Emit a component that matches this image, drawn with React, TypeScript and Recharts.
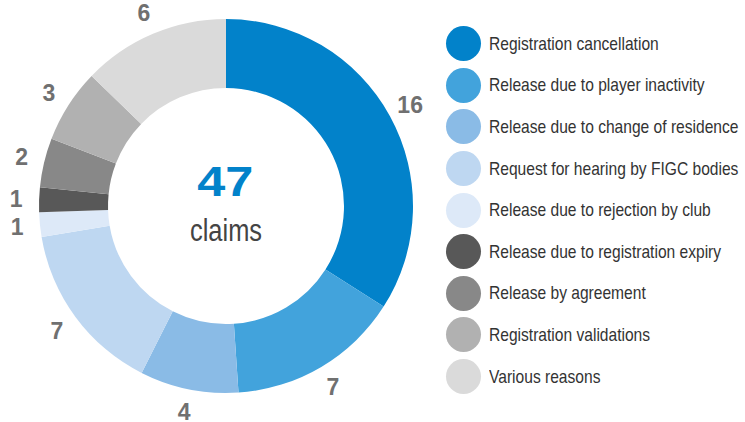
import React from 'react';
import { PieChart, Pie, Cell } from 'recharts';

// Claims by type (total 47)
const categories = [
    'Registration cancellation',
    'Release due to player inactivity',
    'Release due to change of residence',
    'Request for hearing by FIGC bodies',
    'Release due to rejection by club',
    'Release due to registration expiry',
    'Release by agreement',
    'Registration validations',
    'Various reasons',
];
const claims = [16, 7, 4, 7, 1, 1, 2, 3, 6];
const colors = ['#0282ca', '#42a3dc', '#8abbe6', '#bed7f1', '#dde9f8', '#585858', '#888888', '#b1b1b1', '#dadada'];
const totalLabel = '47';
const totalUnit = 'claims';

const data = categories.map((name, i) => ({ name, value: claims[i] }));

const RADIAN = Math.PI / 180;
const narrow = { display: 'inline-block', transform: 'scaleX(0.82)', transformOrigin: 'left center' };

const renderValue = (props: any) => {
    const { cx, cy, midAngle, outerRadius, value } = props;
    const r = outerRadius + 23;
    const x = cx + r * Math.cos(-midAngle * RADIAN);
    const y = cy + r * Math.sin(-midAngle * RADIAN);
    return (
        <text x={x} y={y} textAnchor="middle" dominantBaseline="central" fill="#707070"
            style={{ fontFamily: '"Liberation Sans", Arial, sans-serif', fontWeight: 700, fontSize: 23 }}>
            {value}
        </text>
    );
};

export default function App() {
    return (
        <div style={{ position: 'absolute', left: 0, top: 0, width: 745, height: 422, background: '#fff', fontFamily: '"Liberation Sans", Arial, sans-serif' }}>
            <PieChart width={745} height={422} margin={{ top: 0, right: 0, bottom: 0, left: 0 }}>
                <Pie
                    data={data}
                    dataKey="value"
                    nameKey="name"
                    cx={226}
                    cy={206}
                    innerRadius={118}
                    outerRadius={187}
                    startAngle={90}
                    endAngle={-270}
                    stroke="none"
                    label={renderValue}
                    labelLine={false}
                    isAnimationActive={false}
                >
                    {data.map((d, i) => (
                        <Cell key={d.name} fill={colors[i]} />
                    ))}
                </Pie>
            </PieChart>

            {/* centre total */}
            <div style={{ position: 'absolute', left: 145, width: 160, top: 158, textAlign: 'center', color: '#0282ca', fontWeight: 700, fontSize: 42, lineHeight: '48px' }}>
                <span style={{ display: 'inline-block', transform: 'scaleX(1.2)' }}>{totalLabel}</span>
            </div>
            <div style={{ position: 'absolute', left: 190, top: 213, color: '#444', fontSize: 31, lineHeight: '36px', whiteSpace: 'nowrap' }}>
                <span style={narrow}>{totalUnit}</span>
            </div>

            {/* legend */}
            <div style={{ position: 'absolute', left: 446, top: 23 }}>
                {categories.map((name, i) => (
                    <div key={name} style={{ display: 'flex', alignItems: 'center', height: 41.6 }}>
                        <span style={{ width: 35, height: 35, borderRadius: '50%', background: colors[i], display: 'inline-block', flex: 'none' }} />
                        <span style={{ marginLeft: 8, fontSize: 19, color: '#333', whiteSpace: 'nowrap' }}>
                            <span style={narrow}>{name}</span>
                        </span>
                    </div>
                ))}
            </div>
        </div>
    );
}
